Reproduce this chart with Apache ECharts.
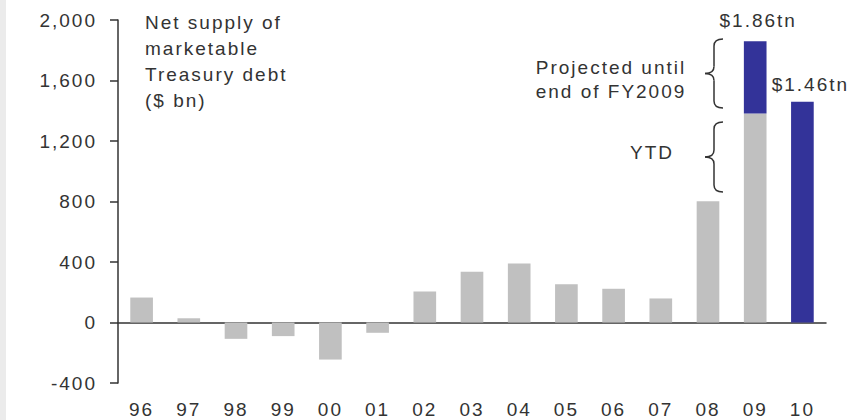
<!DOCTYPE html>
<html>
<head>
<meta charset="utf-8">
<script src="https://cdn.jsdelivr.net/npm/echarts@6/dist/echarts.min.js"></script>
<style>
  html, body { margin: 0; padding: 0; background: #fff; }
  #chart0 { width: 852px; height: 420px; }
  #chart0 text { letter-spacing: 2px; }
</style>
</head>
<body>
<div id="chart0"></div>
<script>
var years = ['96', '97', '98', '99', '00', '01', '02', '03', '04', '05', '06', '07', '08', '09', '10'];
var ytd = [165, 28, -108, -90, -245, -68, 205, 335, 390, 253, 223, 159, 802, 1382, null];
var projected = [null, null, null, null, null, null, null, null, null, null, null, null, null, 478, 1460];
var totalLabels = ['', '', '', '', '', '', '', '', '', '', '', '', '', '$1.86tn', '$1.46tn'];
var yTicks = [-400, 0, 400, 800, 1200, 1600, 2000];

var font = 'Liberation Sans';
var ink = '#333333';
var fs = 19;

// curly brace "{" built from curves, w wide and h tall
var brace = function (x, y, w, h) {
    var m = w / 2, r = 7, c = h / 2;
    var st = { fill: null, stroke: ink, lineWidth: 1.5 };
    return {
        type: 'group', x: x, y: y,
        children: [
            { type: 'bezierCurve', shape: { x1: w, y1: 0, cpx1: m, cpy1: 0, x2: m, y2: r }, style: st },
            { type: 'line', shape: { x1: m, y1: r, x2: m, y2: c - r }, style: st },
            { type: 'bezierCurve', shape: { x1: m, y1: c - r, cpx1: m, cpy1: c, x2: 0, y2: c }, style: st },
            { type: 'bezierCurve', shape: { x1: 0, y1: c, cpx1: m, cpy1: c, x2: m, y2: c + r }, style: st },
            { type: 'line', shape: { x1: m, y1: c + r, x2: m, y2: h - r }, style: st },
            { type: 'bezierCurve', shape: { x1: m, y1: h - r, cpx1: m, cpy1: h, x2: w, y2: h }, style: st }
        ]
    };
};

var chart0 = echarts.init(document.getElementById('chart0'), null, { renderer: 'svg' });

var projData = projected.map(function (v, i) {
    var item = { value: v };
    if (totalLabels[i]) {
        item.label = {
            show: true,
            position: 'top',
            distance: i === 13 ? 11 : 8,
            offset: i === 14 ? [8, 0] : [3, 0],
            formatter: totalLabels[i]
        };
    }
    return item;
});

var option = {
    animation: false,
    grid: { left: 118, right: 26, top: 20, bottom: 37, outerBoundsMode: 'none', containLabel: false },
    xAxis: [
        {
            type: 'category',
            data: years,
            axisLine: { onZero: true, lineStyle: { color: ink, width: 1.5 } },
            axisTick: { length: 6, lineStyle: { color: ink, width: 1.5 } },
            axisLabel: { show: false }
        },
        {
            // labels only, along the bottom edge
            type: 'category',
            data: years,
            position: 'bottom',
            axisLine: { show: false, onZero: false },
            axisTick: { show: false },
            axisLabel: { margin: 17, color: ink, fontFamily: font, fontSize: fs }
        }
    ],
    yAxis: {
        type: 'value',
        min: yTicks[0],
        max: yTicks[yTicks.length - 1],
        interval: 400,
        splitLine: { show: false },
        axisLine: { show: true, lineStyle: { color: ink, width: 1.5 } },
        axisTick: { show: true, length: 8, lineStyle: { color: ink, width: 1.5 } },
        axisLabel: {
            margin: 21, color: ink, fontFamily: font, fontSize: fs,
            formatter: function (v) { return v.toLocaleString('en-US'); }
        }
    },
    series: [
        {
            name: 'YTD',
            type: 'bar',
            stack: 'supply',
            barWidth: '48%',
            data: ytd,
            itemStyle: { color: '#c0c0c0' }
        },
        {
            name: 'Projected',
            type: 'bar',
            stack: 'supply',
            data: projData,
            itemStyle: { color: '#333399' },
            label: { color: ink, fontFamily: font, fontSize: fs }
        }
    ],
    graphic: [
        { type: 'rect', left: 0, top: 0, shape: { width: 6, height: 420 }, style: { fill: '#ebebeb' } },
        {
            type: 'text', x: 145, y: 9,
            style: {
                text: 'Net supply of\nmarketable\nTreasury debt\n($ bn)',
                font: fs + 'px "' + font + '"', fill: ink, lineHeight: 26
            }
        },
        {
            type: 'text', x: 611, y: 55,
            style: {
                text: 'Projected until\nend of FY2009',
                font: fs + 'px "' + font + '"', fill: ink, lineHeight: 24, align: 'center'
            }
        },
        {
            type: 'text', x: 652, y: 143,
            style: { text: 'YTD', font: fs + 'px "' + font + '"', fill: ink, align: 'center' }
        },
        brace(705, 39, 18, 69),
        brace(705, 122, 18, 70)
    ]
};
chart0.setOption(option);
</script>
</body>
</html>
